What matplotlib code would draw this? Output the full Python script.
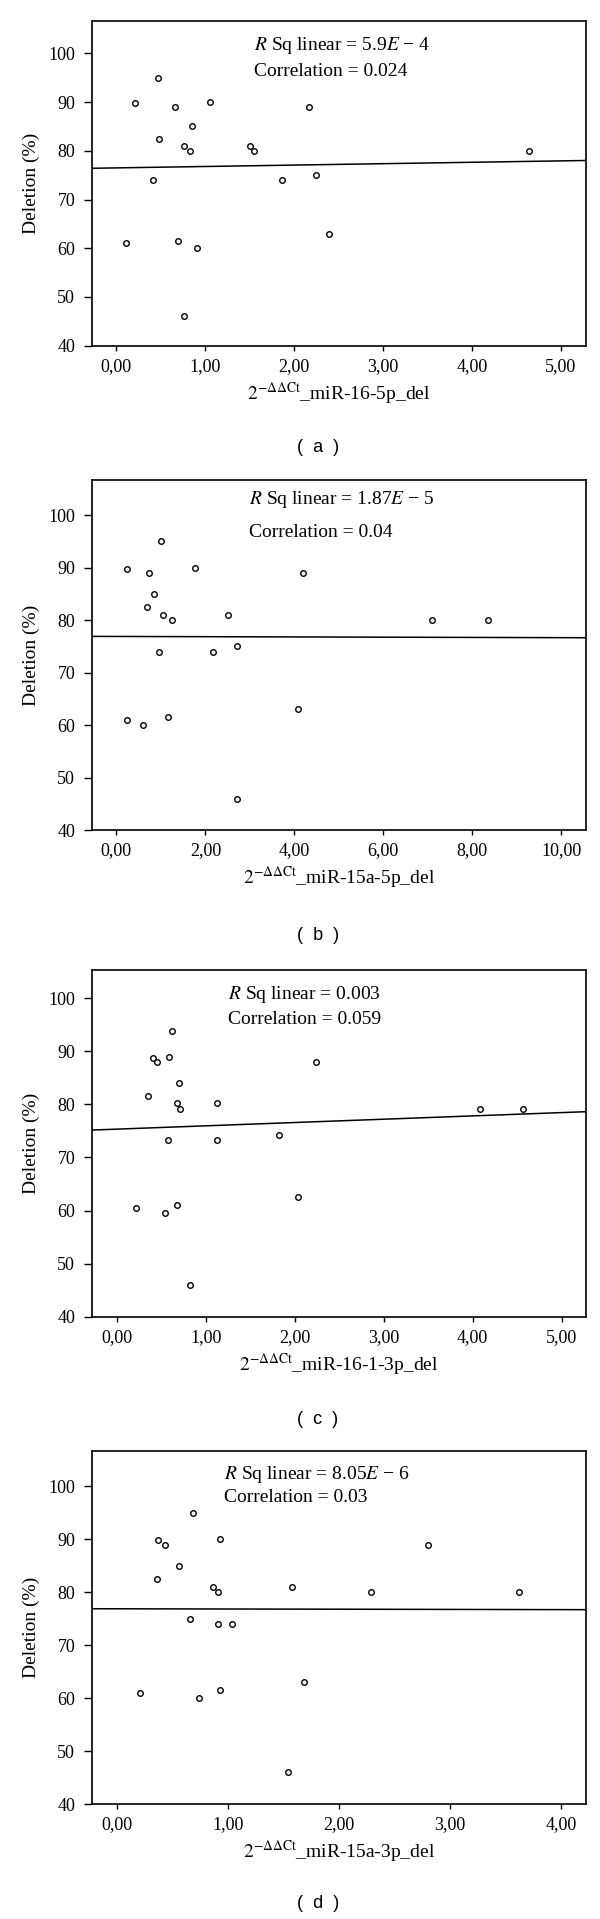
import numpy as np
import matplotlib
matplotlib.use('Agg')
from matplotlib import pyplot as plt

plt.rcParams['font.family'] = ['Liberation Serif', 'DejaVu Serif']
plt.rcParams['mathtext.fontset'] = 'stix'

# (a) miR-16-5p
x_a = [0.21, 0.47, 0.48, 0.41, 0.11, 0.66, 0.69, 0.76, 0.83, 0.85,
       0.91, 1.06, 1.51, 1.55, 1.87, 2.17, 2.25, 2.39, 4.64, 0.76]
y_a = [89.8, 95.0, 82.5, 74.0, 61.0, 89.0, 61.5, 81.0, 80.0, 85.0,
       60.0, 90.0, 81.0, 80.0, 74.0, 89.0, 75.0, 63.0, 80.0, 46.1]

# (b) miR-15a-5p
x_b = [0.23, 1.01, 0.73, 1.77, 0.84, 0.69, 1.05, 1.25, 2.50, 4.20,
       7.09, 8.35, 0.96, 2.18, 2.72, 0.23, 0.59, 1.15, 4.08, 2.71]
y_b = [89.7, 95.0, 89.0, 90.0, 85.0, 82.5, 81.0, 80.0, 81.0, 89.0,
       80.0, 80.0, 74.0, 74.0, 75.0, 61.0, 60.0, 61.5, 63.0, 46.0]

# (c) miR-16-1-3p
x_c = [0.62, 0.40, 0.45, 0.59, 0.70, 0.35, 0.67, 0.71, 1.12, 2.24,
       4.08, 4.57, 0.57, 1.12, 1.82, 0.21, 0.54, 0.67, 2.04, 0.82]
y_c = [93.9, 88.8, 88.0, 89.0, 84.1, 81.6, 80.2, 79.2, 80.2, 88.0,
       79.2, 79.2, 73.3, 73.3, 74.3, 60.5, 59.5, 61.0, 62.5, 45.9]

# (d) miR-15a-3p
x_d = [0.68, 0.37, 0.43, 0.93, 0.56, 0.36, 0.86, 0.91, 1.58, 2.29,
       2.80, 3.62, 0.66, 0.91, 1.04, 0.21, 0.74, 0.93, 1.68, 1.54]
y_d = [95.0, 89.8, 89.0, 90.0, 85.0, 82.5, 81.0, 80.0, 81.0, 80.0,
       89.0, 80.0, 75.0, 74.0, 74.0, 61.0, 60.0, 61.5, 63.0, 46.0]

names = ['miR-16-5p', 'miR-15a-5p', 'miR-16-1-3p', 'miR-15a-3p']
rsq_txt = ['5.9$E$ \u2212 4', '1.87$E$ \u2212 5', '0.003', '8.05$E$ \u2212 6']
corr_txt = ['0.024', '0.04', '0.059', '0.03']
letters = ['a', 'b', 'c', 'd']
xticks = [[0, 1, 2, 3, 4, 5], [0, 2, 4, 6, 8, 10],
          [0, 1, 2, 3, 4, 5], [0, 1, 2, 3, 4]]
yticks = [40, 50, 60, 70, 80, 90, 100]

xlims = [(-0.275, 5.28), (-0.554, 10.55), (-0.283, 5.27), (-0.227, 4.22)]
ytops = [106.7, 106.7, 105.3, 106.7]
txt_pos = [(0.328, 101.7, 96.2), (0.318, 103.0, 96.7),
           (0.276, 100.7, 96.0), (0.268, 102.3, 97.9)]

data = [(x_a, y_a), (x_b, y_b), (x_c, y_c), (x_d, y_d)]

W, H = 600, 1919
fig = plt.figure(figsize=(W / 100, H / 100), dpi=100)

# pixel rows of each panel: (top spine, bottom spine, panel letter)
rows = [(20.7, 345.7, 447), (480, 830, 935), (970, 1316.7, 1420), (1451, 1804, 1903)]
left, right = 0.153, 0.976

for i, (xs, ys) in enumerate(data):
    top, bot, lab = rows[i]
    ax = fig.add_axes([left, 1 - bot / H, right - left, (bot - top) / H])
    ax.plot(xs, ys, 'o', mfc='white', mec='black', ms=4, mew=1.0,
            zorder=3, clip_on=False)
    b, m = np.polynomial.polynomial.polyfit(xs, ys, 1)
    xx = np.array(xlims[i])
    ax.plot(xx, b + m * xx, '-', color='black', lw=1.1, zorder=2)

    ax.set_xlim(*xlims[i])
    ax.set_ylim(40, ytops[i])
    ax.set_xticks(xticks[i])
    ax.set_xticklabels([('%.2f' % v).replace('.', ',') for v in xticks[i]])
    ax.set_yticks(yticks)
    ax.tick_params(direction='out', width=1.0, labelsize=13,
                   top=False, right=False)
    ax.tick_params(axis='y', length=6, pad=6)
    ax.tick_params(axis='x', length=3.8, pad=5)
    for s in ax.spines.values():
        s.set_linewidth(1.2)

    ax.set_ylabel('Deletion (%)', fontsize=14, labelpad=6)
    ax.set_xlabel(r'$2^{-\Delta\Delta \mathrm{Ct}}$_' + names[i] + '_del',
                  fontsize=14, labelpad=4)

    tx, ty1, ty2 = txt_pos[i]
    tr = ax.get_yaxis_transform()
    ax.text(tx, ty1, '$R$ Sq linear = ' + rsq_txt[i], transform=tr,
            fontsize=14, va='center', ha='left')
    ax.text(tx, ty2, 'Correlation = ' + corr_txt[i], transform=tr,
            fontsize=14, va='center', ha='left')

    fig.text(0.53, 1 - lab / H, '(  %s  )' % letters[i],
             fontsize=13, family=['Liberation Sans', 'DejaVu Sans'],
             ha='center', va='center')

plt.savefig('out.png', dpi=100)
